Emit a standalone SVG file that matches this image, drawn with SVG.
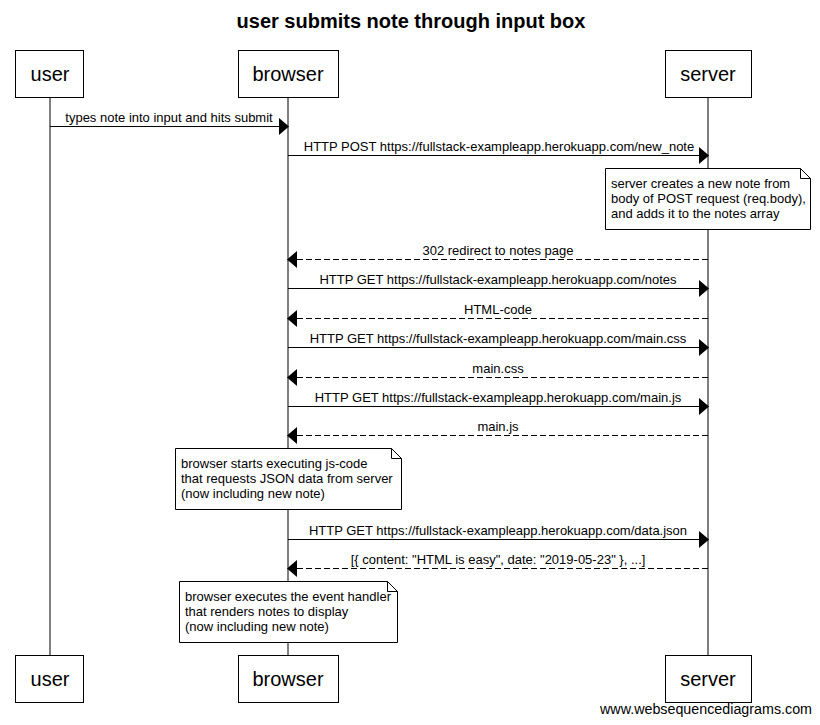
<svg xmlns="http://www.w3.org/2000/svg" width="820" height="725" viewBox="0 0 820 725">
<defs>
<style>
text{font-family:"Liberation Sans",Arial,sans-serif;fill:#000}
.title{font-size:20px;font-weight:bold;text-anchor:middle}
.part{font-size:20px;text-anchor:middle}
.msg{font-size:13px;text-anchor:middle}
.note{font-size:13px}
.box{fill:#fff;stroke:#000;stroke-width:1}
.life{stroke:#000;stroke-width:1}
.solid{stroke:#000;stroke-width:1;fill:none}
.dash{stroke:#000;stroke-width:1;fill:none;stroke-dasharray:6,3}
.head{fill:#000}
.wm{font-size:14px}
</style>
</defs>
<rect width="820" height="725" fill="#fff"/>
<text class="title" x="411" y="28">user submits note through input box</text>
<g id="lifelines">
<line class="life" x1="50" y1="97" x2="50" y2="655"/>
<line class="life" x1="288" y1="97" x2="288" y2="655"/>
<line class="life" x1="708" y1="97" x2="708" y2="655"/>
</g>
<g id="user">
<rect class="box" x="15.5" y="50.5" width="68" height="47"/>
<text class="part" x="50" y="81">user</text>
<rect class="box" x="15.5" y="655.5" width="68" height="47"/>
<text class="part" x="50" y="686">user</text>
</g>
<g id="browser">
<rect class="box" x="238.5" y="50.5" width="100" height="47"/>
<text class="part" x="288" y="81">browser</text>
<rect class="box" x="238.5" y="655.5" width="100" height="47"/>
<text class="part" x="288" y="686">browser</text>
</g>
<g id="server">
<rect class="box" x="665.5" y="50.5" width="86" height="47"/>
<text class="part" x="708" y="81">server</text>
<rect class="box" x="665.5" y="655.5" width="86" height="47"/>
<text class="part" x="708" y="686">server</text>
</g>
<g id="connectors">
<line class="solid" x1="50" y1="126.5" x2="279" y2="126.5"/>
<polygon class="head" points="279,118 289,126.5 279,135"/>
<text class="msg" x="169" y="122">types note into input and hits submit</text>

<line class="solid" x1="288" y1="155.5" x2="699" y2="155.5"/>
<polygon class="head" points="699,147 709,155.5 699,164"/>
<text class="msg" x="499" y="151">HTTP POST https://fullstack-exampleapp.herokuapp.com/new_note</text>

<line class="dash" x1="708" y1="259.5" x2="297" y2="259.5"/>
<polygon class="head" points="297,251 287,259.5 297,268"/>
<text class="msg" x="498" y="255">302 redirect to notes page</text>

<line class="solid" x1="288" y1="288.5" x2="699" y2="288.5"/>
<polygon class="head" points="699,280 709,288.5 699,297"/>
<text class="msg" x="498" y="284">HTTP GET https://fullstack-exampleapp.herokuapp.com/notes</text>

<line class="dash" x1="708" y1="318.5" x2="297" y2="318.5"/>
<polygon class="head" points="297,310 287,318.5 297,327"/>
<text class="msg" x="498" y="314">HTML-code</text>

<line class="solid" x1="288" y1="347.5" x2="699" y2="347.5"/>
<polygon class="head" points="699,339 709,347.5 699,356"/>
<text class="msg" x="498" y="343">HTTP GET https://fullstack-exampleapp.herokuapp.com/main.css</text>

<line class="dash" x1="708" y1="377.5" x2="297" y2="377.5"/>
<polygon class="head" points="297,369 287,377.5 297,386"/>
<text class="msg" x="498" y="373">main.css</text>

<line class="solid" x1="288" y1="406.5" x2="699" y2="406.5"/>
<polygon class="head" points="699,398 709,406.5 699,415"/>
<text class="msg" x="498" y="402">HTTP GET https://fullstack-exampleapp.herokuapp.com/main.js</text>

<line class="dash" x1="708" y1="435.5" x2="297" y2="435.5"/>
<polygon class="head" points="297,427 287,435.5 297,444"/>
<text class="msg" x="498" y="431">main.js</text>

<line class="solid" x1="288" y1="539.5" x2="699" y2="539.5"/>
<polygon class="head" points="699,531 709,539.5 699,548"/>
<text class="msg" x="498" y="535">HTTP GET https://fullstack-exampleapp.herokuapp.com/data.json</text>

<line class="dash" x1="708" y1="568.5" x2="297" y2="568.5"/>
<polygon class="head" points="297,560 287,568.5 297,577"/>
<text class="msg" x="498" y="564">[{ content: "HTML is easy", date: "2019-05-23" }, ...]</text>
</g>
<g id="note-server">
<path class="box" d="M605.5,168.5 H800.5 L810.5,178.5 V229.5 H605.5 Z"/>
<path class="solid" d="M800.5,168.5 V178.5 H810.5"/>
<text class="note" x="611" y="188">server creates a new note from</text>
<text class="note" x="611" y="203">body of POST request (req.body),</text>
<text class="note" x="611" y="218">and adds it to the notes array</text>
</g>
<g id="note-browser-1">
<path class="box" d="M175.5,448.5 H391.5 L401.5,458.5 V509.5 H175.5 Z"/>
<path class="solid" d="M391.5,448.5 V458.5 H401.5"/>
<text class="note" x="181" y="468">browser starts executing js-code</text>
<text class="note" x="181" y="483">that requests JSON data from server</text>
<text class="note" x="181" y="498">(now including new note)</text>
</g>
<g id="note-browser-2">
<path class="box" d="M179.5,581.5 H387.5 L397.5,591.5 V642.5 H179.5 Z"/>
<path class="solid" d="M387.5,581.5 V591.5 H397.5"/>
<text class="note" x="185" y="601">browser executes the event handler</text>
<text class="note" x="185" y="616">that renders notes to display</text>
<text class="note" x="185" y="631">(now including new note)</text>
</g>
<text class="wm" x="600" y="714" textLength="212" lengthAdjust="spacingAndGlyphs">www.websequencediagrams.com</text>
</svg>
